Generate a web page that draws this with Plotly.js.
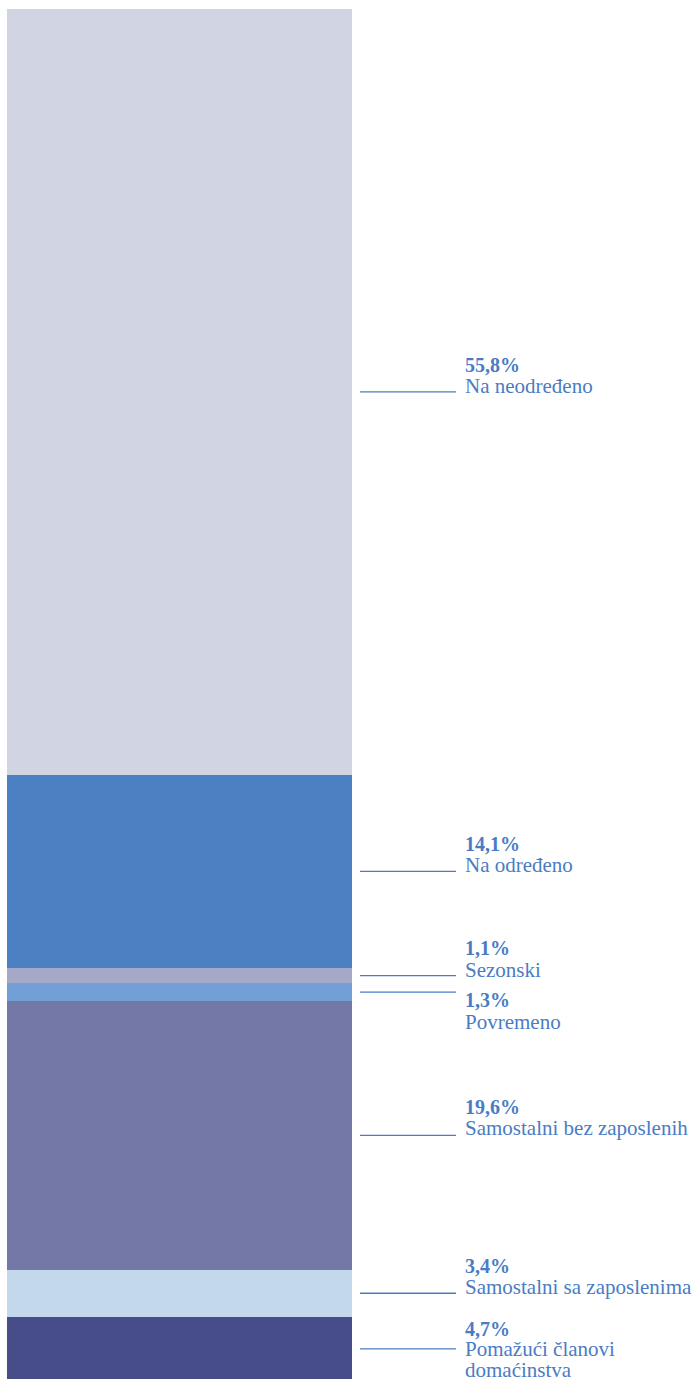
<!DOCTYPE html>
<html>
<head>
<meta charset="utf-8">
<script src="https://cdn.plot.ly/plotly-3.0.1.min.js"></script>
<style>html,body{margin:0;padding:0;background:#fff;}#chart{width:697px;height:1379px;}</style>
</head>
<body>
<div id="chart"></div>
<script>
// Data (bottom to top of the stacked bar)
var categories = ["Pomažući članovi\ndomaćinstva", "Samostalni sa zaposlenima", "Samostalni bez zaposlenih", "Povremeno", "Sezonski", "Na određeno", "Na neodređeno"];
var values = [4.7, 3.4, 19.6, 1.3, 1.1, 14.1, 55.8];
var valueLabels = ["4,7%", "3,4%", "19,6%", "1,3%", "1,1%", "14,1%", "55,8%"];

// Styles
var colors = ["#474d88", "#c4d8eb", "#7378a6", "#72a0d6", "#a6a8c8", "#4b80c2", "#d1d4e3"];
var textColor = "#4a7cc4";
// label offsets in px relative to leader line: [percent yshift, first name line yshift]
var labelShift = [[20, 0], [27, 6], [28, 7], [-8, -30], [28, 6], [27, 6], [27, 6]];

var traces = [];
for (var i = 0; i < values.length; i++) {
  traces.push({
    type: "bar",
    x: [0],
    y: [values[i]],
    width: [1],
    marker: {color: colors[i], line: {width: 0}},
    name: categories[i],
    hoverinfo: "name+y"
  });
}

var shapes = [], annotations = [];
var cum = 0;
var serif = "Liberation Serif, Times New Roman, serif";
for (var i = 0; i < values.length; i++) {
  var mid = cum + values[i] / 2;
  cum += values[i];
  shapes.push({type: "line", xref: "paper", yref: "y", x0: 360/697, x1: 456/697, y0: mid, y1: mid,
    line: {color: textColor, width: 1.3}});
  annotations.push({xref: "paper", yref: "y", x: 463/697, y: mid, xanchor: "left", yanchor: "middle",
    yshift: labelShift[i][0], showarrow: false, text: "<b>" + valueLabels[i] + "</b>",
    font: {family: serif, size: 20, color: textColor}});
  var lines = categories[i].split("\n");
  for (var j = 0; j < lines.length; j++) {
    annotations.push({xref: "paper", yref: "y", x: 463/697, y: mid, xanchor: "left", yanchor: "middle",
      yshift: labelShift[i][1] - 21 * j, showarrow: false, text: lines[j],
      font: {family: serif, size: 21, color: textColor}});
  }
}

var layout = {
  width: 697, height: 1379,
  margin: {l: 0, r: 0, t: 9, b: 0, pad: 0},
  barmode: "stack",
  bargap: 0,
  showlegend: false,
  paper_bgcolor: "#ffffff",
  plot_bgcolor: "#ffffff",
  xaxis: {range: [-0.5 - 7/345, -0.5 - 7/345 + 697/345], visible: false, fixedrange: true},
  yaxis: {range: [0.15, 100], visible: false, fixedrange: true},
  shapes: shapes,
  annotations: annotations
};

Plotly.newPlot("chart", traces, layout, {displayModeBar: false, staticPlot: true});
</script>
</body>
</html>
